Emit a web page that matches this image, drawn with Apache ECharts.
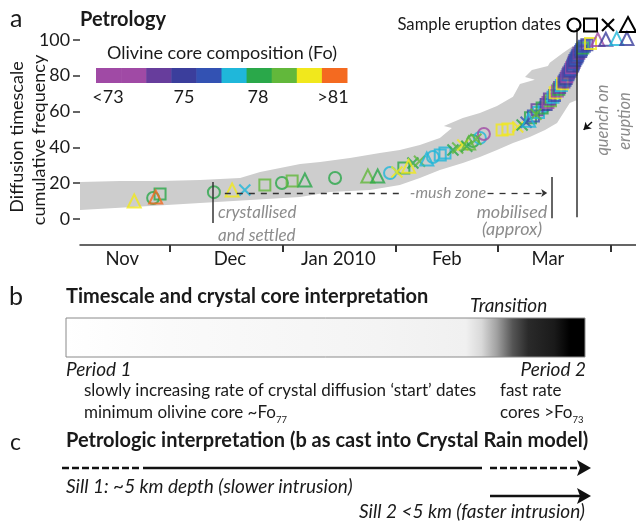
<!DOCTYPE html>
<html><head><meta charset="utf-8">
<script src="https://cdn.jsdelivr.net/npm/echarts@6/dist/echarts.min.js"></script>
<style>html,body{margin:0;padding:0;background:#fff}#c{width:636px;height:522px}</style>
</head><body><div id="c"></div>
<script>
const FONT = 'Lato, "Open Sans", sans-serif';
// Fo colour classes (index used by points and colour bar)
const foColors = ['#a04aa5','#673d9c','#3b3e9c','#3352b3','#1fb7da','#2aa84a','#62b83b','#f1e81c','#f46a20'];
const colorbarClasses = [0,0,1,2,3,4,5,6,7,8];
const colorbarLabels = ['<73','75','78','>81'];
// x axis: days since 1 Nov 2009
const monthTickDays = [30,61,92,120,151];
const monthLabels = ['Nov','Dec','Jan 2010','Feb','Mar'];
const monthLabelDays = [16.8,46.4,76.2,106,133.8];
const yTicks = [0,20,40,60,80,100];
// sample shapes: 0 circle, 1 square, 2 cross, 3 triangle
const pointDay = [20.1,25.3,26.0,27.2,42.0,47.0,50.5,56.0,60.7,63.5,67.0,75.3,84.3,87.0,90.4,92.3,94.2,95.5,96.7,98.5,100.5,102.2,104.2,105.5,107.7,109.0,110.4,111.5,112.0,113.2,114.0,115.1,116.2,121.2,122.8,125.5,126.7,127.8,128.5,
 129.0,129.8,130.5,131.2,130.8,132.2,132.8,133.3,133.8,134.5,134.2,135.2,135.6,135.8,136.4,136.8,137.0,137.5,137.8,138.2,138.5,138.8,139.0,139.3,139.5,139.9,140.1,140.3,140.6,140.8,141.0,141.2,141.5,141.8,142.0,142.3,142.8,143.0,143.4,143.8,144.5,145.5,147.5,149.7,152.7,155.5];
const pointFreq = [10.1,11.7,12.3,14.0,15.0,16.2,16.2,19.0,20.1,21.2,21.8,22.9,24.0,24.0,25.7,26.3,28.5,29.5,31.3,32.3,33.5,34.6,35.8,36.9,38.5,39.7,41.3,40.6,42.5,43.6,44.5,45.3,47.5,49.7,50.3,51.4,52.5,54.0,55.2,
 56.5,57.5,58.5,59.5,61.0,62.0,63.0,64.0,65.0,66.0,67.0,68.0,69.0,70.5,71.5,72.5,73.5,74.5,75.5,76.5,77.5,78.5,79.5,80.5,81.5,82.5,83.5,84.5,85.5,86.5,87.5,88.5,89.5,90.5,91.5,92.5,93.5,94.5,95.5,96.5,97.3,98.0,100.2,100.4,100.8,100.8];
const pointFo = [7,5,8,5,5,7,4,6,5,6,5,5,6,5,4,7,5,7,5,6,4,4,4,4,5,6,7,5,6,5,6,4,0,7,7,7,5,3,4,
 5,3,6,4,1,5,4,2,0,6,1,4,3,7,0,5,1,4,7,1,3,2,0,3,1,2,3,0,2,3,1,2,3,2,3,1,2,3,5,3,2,7,0,2,4,2];
const pointShape = [3,0,3,1,0,3,2,1,0,1,3,0,3,3,0,2,1,3,2,2,3,0,1,1,2,2,2,2,3,0,2,0,0,1,1,2,2,2,3,
 1,1,2,1,1,1,0,1,1,1,1,1,1,1,1,1,1,1,1,1,1,1,1,1,1,1,1,1,1,1,1,1,1,1,1,1,1,1,1,1,1,1,3,3,3,3];
// grey error envelope (days, %)
const bandUpperDay = [5.2,16.2,27.2,38.2,49.2,54.7,60.2,65.7,71.2,79.4,87.6,93.1,98.6,104.1,107.4,105.2,110.4,115.1,119.8,124.2,126.1,130.2,127.5,129.4,133.8,134.3,137.9,140.7,141.8];
const bandUpperFreq = [20.7,21.2,21.2,21.8,22.9,26.3,28.5,30.7,31.8,34.1,36.9,38.5,41.3,45.3,50.8,52.0,56.4,59.2,63.1,68.2,75.4,77.7,79.3,83.2,85.5,87.2,92.7,96.6,97.2];
const bandLowerDay = [141.8,141.8,139.8,136.3,133.0,128.8,124.2,119.8,115.1,110.4,104.1,98.6,93.1,84.9,73.9,65.7,51.9,38.2,24.5,5.2];
const bandLowerFreq = [88.8,66.5,64.8,53.6,49.7,45.8,42.5,38.5,34.6,31.3,27.4,22.9,19.0,16.2,15.1,12.3,10.6,8.9,7.3,5.0];

const shapeSymbols = ['circle','rect','path://M0,0L10,10M10,0L0,10','triangle'];
const shapeSizes = [12,11,11,13];

const chart = echarts.init(document.getElementById('c'), null, {renderer:'canvas'});

const scatterSeries = shapeSymbols.map((sym, s) => ({
  type:'scatter', symbol:sym, symbolSize:shapeSizes[s], z:3,
  itemStyle:{color:'rgba(0,0,0,0)', borderWidth:2},
  silent:true,
  data: pointDay.map((d,i)=>i).filter(i=>pointShape[i]===s).map(i=>({
    value:[pointDay[i], pointFreq[i]],
    itemStyle:{borderColor: foColors[pointFo[i]], color:'rgba(0,0,0,0)'}
  }))
}));

const gray = '#8c8c8c';
function txt(text, x, y, o) {
  return {type:'text', x, y, silent:true, style:Object.assign({text, fill:'#1a1a1a', fontFamily:FONT, fontSize:17,
    align:'left', verticalAlign:'middle', textAlign:'left', textVerticalAlign:'middle'}, o||{})};
}
const C = {align:'center', textAlign:'center'};
const R = {align:'right', textAlign:'right'};
const graphics = [];
graphics.push(txt('a', 10, 19, {fontSize:25}));
graphics.push(txt('Petrology', 80, 20, {fontSize:20, fontWeight:'bold'}));
graphics.push(txt('Olivine core composition (Fo)', 222, 53, Object.assign({fontSize:18}, C)));
colorbarClasses.forEach((c,i)=>graphics.push({type:'rect', silent:true, shape:{x:96+i*25.1, y:68, width:25.6, height:15}, style:{fill:foColors[c]}}));
const cbLabelX = [108,184,258,333];
colorbarLabels.forEach((l,i)=>graphics.push(txt(l, cbLabelX[i], 97, Object.assign({fontSize:18}, C))));
let n1 = txt('Diffusion timescale', 17, 137, Object.assign({fontSize:18}, C)); n1.rotation = Math.PI/2; graphics.push(n1);
let n2 = txt('cumulative frequency', 39, 140, Object.assign({fontSize:18}, C)); n2.rotation = Math.PI/2; graphics.push(n2);
graphics.push(txt('Sample eruption dates', 561, 25, Object.assign({fontSize:16.7}, R)));
graphics.push({type:'circle', silent:true, shape:{cx:574, cy:25, r:6.5}, style:{fill:'none', stroke:'#000', lineWidth:2.2}, z:10});
graphics.push({type:'rect', silent:true, shape:{x:584, y:18.5, width:13, height:13}, style:{fill:'none', stroke:'#000', lineWidth:2}, z:10});
graphics.push({type:'polyline', silent:true, shape:{points:[[602,19],[614,31]]}, style:{stroke:'#000', lineWidth:2.2}, z:10});
graphics.push({type:'polyline', silent:true, shape:{points:[[614,19],[602,31]]}, style:{stroke:'#000', lineWidth:2.2}, z:10});
graphics.push({type:'polygon', silent:true, shape:{points:[[628,17],[636,32],[620,32]]}, style:{fill:'none', stroke:'#000', lineWidth:2}, z:10});
graphics.push(txt('error*', 84, 197, {fill:'#fff', fontSize:17}));
const ital = {fill:gray, fontStyle:'italic', fontSize:17};
graphics.push(txt('crystallised', 218, 213, ital));
graphics.push(txt('and settled', 218, 236, ital));
graphics.push(txt('-mush zone', 448, 193, Object.assign({}, ital, C, {fontSize:16})));
graphics.push(txt('mobilised', 512, 212, Object.assign({}, ital, C, {fontSize:18})));
graphics.push(txt('(approx)', 512, 229, Object.assign({}, ital, C, {fontSize:18})));
let q1 = txt('quench on', 603, 120, Object.assign({}, ital, C, {fontSize:16.5})); q1.rotation = Math.PI/2; graphics.push(q1);
let q2 = txt('eruption', 625, 121, Object.assign({}, ital, C, {fontSize:16.5})); q2.rotation = Math.PI/2; graphics.push(q2);
// panel b
graphics.push(txt('b', 9, 297, {fontSize:25}));
graphics.push(txt('Timescale and crystal core interpretation', 66, 297, {fontSize:20, fontWeight:'bold'}));
graphics.push(txt('Transition', 470, 306, {fontSize:19, fontStyle:'italic'}));
graphics.push({type:'rect', silent:true, shape:{x:66, y:318, width:519, height:39}, style:{
  fill:{type:'linear', x:0, y:0, x2:1, y2:0, colorStops:[
    {offset:0,color:'#ffffff'},{offset:0.2,color:'#fafafa'},{offset:0.6,color:'#f4f4f4'},{offset:0.77,color:'#f0f0f0'},
    {offset:0.8,color:'#d9d9d9'},{offset:0.83,color:'#a0a0a0'},{offset:0.86,color:'#555'},{offset:0.89,color:'#2a2a2a'},
    {offset:0.94,color:'#1a1a1a'},{offset:0.97,color:'#000'},{offset:1,color:'#000'}]},
  stroke:'#8a8a8a', lineWidth:1}});
graphics.push(txt('Period 1', 66, 370, {fontStyle:'italic', fontSize:19}));
graphics.push(txt('Period 2', 586, 370, Object.assign({fontStyle:'italic', fontSize:19}, R)));
graphics.push(txt('slowly increasing rate of crystal diffusion \u2018start\u2019 dates', 84, 391));
graphics.push(txt('fast rate', 500, 391));
const rich = {n:{fontSize:17, fontFamily:FONT, fill:'#1a1a1a', lineHeight:22}, s:{fontSize:9.5, fontFamily:FONT, fill:'#1a1a1a', lineHeight:9, padding:[13,0,0,0]}};
graphics.push(txt('{n|minimum olivine core ~Fo}{s|77}', 84, 413, {rich}));
graphics.push(txt('{n|cores >Fo}{s|73}', 500, 413, {rich}));
// panel c
graphics.push(txt('c', 10, 443, {fontSize:23}));
graphics.push(txt('Petrologic interpretation (b as cast into Crystal Rain model)', 66, 441, {fontSize:20, fontWeight:'bold'}));
const ls = {stroke:'#111', lineWidth:2.6};
graphics.push({type:'polyline', silent:true, shape:{points:[[62,468],[140,468]]}, style:Object.assign({lineDash:[7,3]}, ls)});
graphics.push({type:'polyline', silent:true, shape:{points:[[143,468],[482,468]]}, style:ls});
graphics.push({type:'polyline', silent:true, shape:{points:[[490,468],[580,468]]}, style:Object.assign({lineDash:[7,3]}, ls)});
graphics.push({type:'polygon', silent:true, shape:{points:[[577,460],[591,468],[577,476],[580,468]]}, style:{fill:'#111'}});
graphics.push(txt('Sill 1: ~5 km depth (slower intrusion)', 66, 487, {fontStyle:'italic', fontSize:19}));
graphics.push({type:'polyline', silent:true, shape:{points:[[490,496],[580,496]]}, style:ls});
graphics.push({type:'polygon', silent:true, shape:{points:[[577,488],[591,496],[577,504],[580,496]]}, style:{fill:'#111'}});
graphics.push(txt('Sill 2 <5 km (faster intrusion)', 585, 512, Object.assign({fontStyle:'italic', fontSize:19}, R)));

// annotation lines in data coordinates
const solidLines = [[[41.8,20.7],[41.8,-2.2]], [[134.9,23.5],[134.9,0.5]], [[141.8,106.5],[141.8,1]]];
const dashLines = [[[45,14.5],[93.8,14.5]], [[117.2,14.5],[133.6,14.5]]];

const option = {
  animation:false,
  grid:{left:80, right:0, top:22, height:223},
  xAxis:{type:'value', min:5.2, max:158,
    axisLine:{show:true, onZero:false, lineStyle:{color:'#333', width:1.5}},
    axisTick:{show:true, customValues:monthTickDays, length:7, lineStyle:{color:'#333', width:2}},
    axisLabel:{customValues:monthLabelDays, formatter:(v)=>monthLabels[monthLabelDays.indexOf(v)], fontSize:18.5, fontFamily:FONT, color:'#1a1a1a', margin:5},
    splitLine:{show:false}},
  yAxis:{type:'value', min:-14.5, max:110,
    axisLine:{show:false, onZero:false},
    axisTick:{show:true, customValues:yTicks, length:7, lineStyle:{color:'#333', width:1.5}},
    axisLabel:{customValues:yTicks, fontSize:17.8, fontFamily:FONT, color:'#1a1a1a', margin:10},
    splitLine:{show:false}},
  series:[
    {type:'custom', coordinateSystem:'cartesian2d', silent:true, z:1, data:[[bandUpperDay[0], bandUpperFreq[0]]],
     renderItem:(params, api)=>{
       const pts = bandUpperDay.map((d,i)=>api.coord([d, bandUpperFreq[i]])).concat(bandLowerDay.map((d,i)=>api.coord([d, bandLowerFreq[i]])));
       return {type:'polygon', shape:{points:pts}, style:{fill:'#cdcdcd'}};
     }},
    {type:'scatter', data:[], silent:true, z:2,
     markLine:{silent:true, symbol:['none','none'], label:{show:false}, lineStyle:{color:'#333', width:1.5, type:'solid'},
       data: solidLines.map(l=>[{coord:l[0]},{coord:l[1]}])}},
    {type:'scatter', data:[], silent:true, z:2,
     markLine:{silent:true, symbol:['none','none'], label:{show:false}, lineStyle:{color:'#333', width:1.3, type:[6,6]},
       data: [[{coord:dashLines[0][0]},{coord:dashLines[0][1]}],
              [{coord:dashLines[1][0]},{coord:dashLines[1][1], symbol:'arrow', symbolSize:6}]]}},
    {type:'scatter', data:[], silent:true, z:2,
     markLine:{silent:true, symbol:['none','arrow'], symbolSize:7, label:{show:false}, lineStyle:{color:'#111', width:1.5, type:'solid'},
       data: [[{coord:[145.9,54.2]},{coord:[143.6,49.8]}]]}},
    ...scatterSeries
  ],
  graphic:{elements:graphics}
};
chart.setOption(option);
</script></body></html>
